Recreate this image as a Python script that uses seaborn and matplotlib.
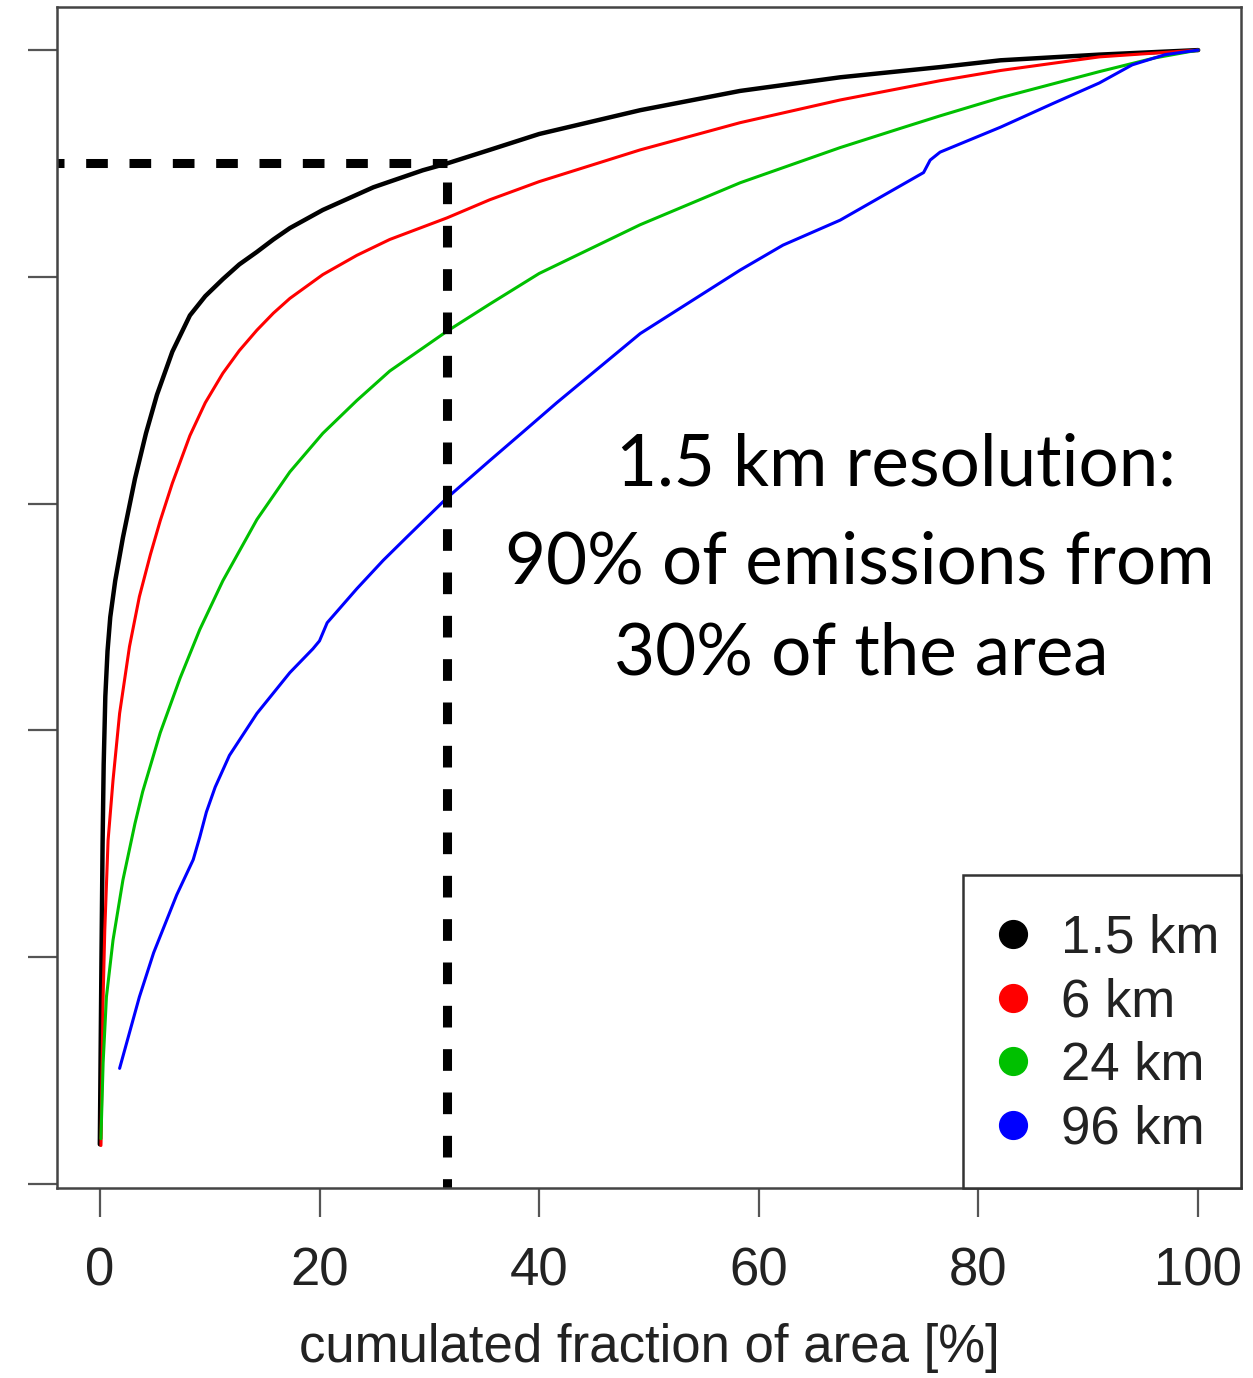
import numpy as np
import pandas as pd
import matplotlib
matplotlib.use("Agg")
import matplotlib.pyplot as plt
from matplotlib.lines import Line2D
from matplotlib.patches import Rectangle
import seaborn as sns

# ---------------- data ----------------
resolutions = ["1.5 km", "6 km", "24 km", "96 km"]
colors = ["#000000", "#ff0000", "#00c000", "#0000ff"]

x_15 = [0, 0.15, 0.25, 0.35, 0.5, 0.7, 0.95, 1.4, 2.1, 3.2, 4.2, 5.2, 6.6, 8.2, 9.6, 11.2,
        12.7, 14.3, 15.8, 17.3, 20.3, 24.9, 29.4, 31.6, 35.5, 40, 49.2, 58.3, 67.4, 76.5,
        82, 91, 100]
y_15 = [3.5, 20, 30, 37, 43, 47, 50, 53.2, 57, 62.2, 66.2, 69.6, 73.4, 76.6, 78.3, 79.8,
        81.1, 82.2, 83.3, 84.3, 85.9, 87.9, 89.4, 90, 91.2, 92.6, 94.7, 96.4, 97.6, 98.5,
        99.1, 99.6, 100]

x_6 = [0.1, 0.2, 0.3, 0.45, 0.75, 1.2, 1.8, 2.7, 3.6, 4.6, 5.5, 6.6, 8.2, 9.6, 11.2, 12.7,
       14.3, 15.8, 17.3, 20.3, 23.4, 26.4, 31.6, 35.5, 40, 49.2, 58.3, 67.4, 76.5, 82, 91, 100]
y_6 = [3.4, 10, 16.5, 22.4, 30.3, 35.6, 41.5, 47.4, 51.8, 55.5, 58.5, 61.8, 66, 68.9, 71.5,
       73.5, 75.3, 76.8, 78.1, 80.2, 81.9, 83.3, 85.2, 86.8, 88.4, 91.2, 93.6, 95.6, 97.3,
       98.2, 99.4, 100]

x_24 = [0.1, 0.3, 0.6, 1.2, 2.1, 3.2, 3.9, 5.5, 7.3, 9.1, 11.2, 14.3, 17.3, 20.3, 23.4,
        26.4, 31.6, 35.5, 40, 49.2, 58.3, 67.4, 72.9, 76.5, 82, 91, 96, 100]
y_24 = [4.0, 10.7, 16.5, 21.5, 26.8, 31.8, 34.6, 39.8, 44.6, 48.9, 53.2, 58.6, 62.8, 66.2,
        69.1, 71.7, 75.2, 77.6, 80.3, 84.6, 88.3, 91.4, 93.1, 94.2, 95.8, 98.1, 99.3, 100]

x_96 = [1.8, 3.6, 4.9, 7.0, 8.5, 9.1, 9.7, 10.5, 11.8, 14.3, 17.3, 19.4, 20.0, 20.7, 23.4,
        25.8, 28, 31.6, 35.5, 38.5, 41.6, 49.2, 58.3, 62.2, 67.4, 75, 75.6, 76.5, 82, 86.8,
        91, 94, 97, 100]
y_96 = [10.2, 16.5, 20.4, 25.5, 28.6, 30.6, 32.8, 35, 37.8, 41.5, 45.1, 47.2, 47.9, 49.5,
        52.5, 55, 57.1, 60.5, 63.8, 66.3, 68.9, 75, 80.6, 82.8, 85, 89.2, 90.3, 91, 93.2,
        95.3, 97.1, 98.7, 99.6, 100]

x_ticks = [0, 20, 40, 60, 80, 100]
y_ticks = [0, 20, 40, 60, 80, 100]
x_label = "cumulated fraction of area [%]"

threshold_emis = 90     # % of emissions
threshold_area = 31.6   # % of area

note_lines = ["1.5 km resolution:", "90% of emissions from", "30% of the area"]

# ---------------- build table ----------------
frames = []
for name, xs, ys in [("1.5 km", x_15, y_15), ("6 km", x_6, y_6),
                     ("24 km", x_24, y_24), ("96 km", x_96, y_96)]:
    frames.append(pd.DataFrame({"area": xs, "emis": ys, "res": name}))
df = pd.concat(frames, ignore_index=True)

# ---------------- plot ----------------
sns.set_style("white")
plt.rcParams["font.family"] = ["Liberation Sans", "DejaVu Sans"]

W, H = 1253, 1378
fig = plt.figure(figsize=(W / 100, H / 100), dpi=100)
ax = fig.add_axes([57 / W, 1 - 1188 / H, (1241 - 57) / W, (1188 - 7) / H])

palette = dict(zip(resolutions, colors))
for name in resolutions:
    sub = df[df["res"] == name]
    sns.lineplot(data=sub, x="area", y="emis", color=palette[name],
                 lw=3.2 if name == "1.5 km" else 2.2, estimator=None, sort=False,
                 ax=ax, legend=False)
for ln in ax.get_lines():
    ln.set_solid_joinstyle("round")

# dashed guide lines
ax.plot([-10, threshold_area], [threshold_emis, threshold_emis], color="black",
        lw=6.5, linestyle=(0, (2.4, 2.4)), dash_capstyle="butt")
ax.plot([threshold_area, threshold_area], [threshold_emis - 1.6, -5], color="black",
        lw=6.5, linestyle=(0, (2.4, 2.4)), dash_capstyle="butt")

ax.set_xlim(-3.9, 103.9)
ax.set_ylim(-0.35, 103.8)
ax.set_xticks(x_ticks)
ax.set_xticklabels([str(t) for t in x_ticks])
ax.set_yticks(y_ticks)
ax.set_yticklabels([])
ax.set_xlabel(x_label, fontsize=38, labelpad=19, color="#222222")
ax.set_ylabel("")

for s in ax.spines.values():
    s.set_color("#444444")
    s.set_linewidth(1.8)
ax.tick_params(axis="both", direction="out", length=21, width=1.6, color="#555555",
               labelsize=38, labelcolor="#222222")
ax.tick_params(axis="x", pad=21, bottom=True)
ax.tick_params(axis="y", left=True)

# annotation
note_font = ["Lato", "DejaVu Sans"]
ax.text(72.5, 61.6, note_lines[0], ha="center", va="baseline", fontsize=51,
        family=note_font, color="black")
ax.text(69.2, 53.0, note_lines[1], ha="center", va="baseline", fontsize=51,
        family=note_font, color="black")
ax.text(69.3, 44.9, note_lines[2], ha="center", va="baseline", fontsize=51,
        family=note_font, color="black")

# legend box (R-style, sitting in the lower-right corner)
box_x0 = (963 - 57) / (1241 - 57)
box_h = (1188 - 875) / (1188 - 7)
ax.add_patch(Rectangle((box_x0, 0), 1 - box_x0, box_h, transform=ax.transAxes,
                       facecolor="white", edgecolor="#333333", lw=1.8, zorder=4,
                       clip_on=False))
handles = [Line2D([], [], marker="o", linestyle="none", markersize=20,
                  markerfacecolor=c, markeredgecolor=c) for c in colors]
leg = ax.legend(handles, resolutions, loc="center",
                bbox_to_anchor=((1108 - 57) / (1241 - 57), (1188 - 1034) / (1188 - 7)),
                fontsize=38, frameon=False, borderpad=0, borderaxespad=0,
                handlelength=0.64, handletextpad=0.59, labelspacing=0.26)
leg.set_zorder(5)
for t in leg.get_texts():
    t.set_color("#222222")

fig.savefig("out.png", dpi=100, facecolor="white")
